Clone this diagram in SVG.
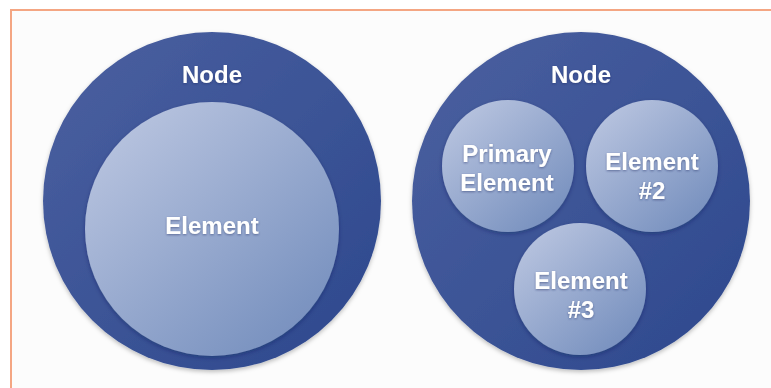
<svg xmlns="http://www.w3.org/2000/svg" width="771" height="388" viewBox="0 0 771 388">
<style>
.node{fill:url(#gOuter);filter:url(#sh)}
.el{fill:url(#gInner);filter:url(#sh2)}
.lbl{font-family:"Liberation Sans",Arial,sans-serif;font-weight:bold;fill:#ffffff;text-anchor:middle;filter:url(#tsh)}
.big{font-size:24px}
.sm{font-size:24px}
</style>
<defs>
<linearGradient id="gOuter" x1="0" y1="0" x2="1" y2="1">
<stop offset="0" stop-color="#4b60a0"/>
<stop offset="1" stop-color="#2d488d"/>
</linearGradient>
<linearGradient id="gInner" x1="0.15" y1="0.1" x2="0.85" y2="0.9">
<stop offset="0" stop-color="#b6c2de"/>
<stop offset="1" stop-color="#7891bf"/>
</linearGradient>
<filter id="sh" x="-10%" y="-10%" width="120%" height="125%">
<feDropShadow dx="0" dy="2" stdDeviation="2" flood-color="#000" flood-opacity="0.25"/>
</filter>
<filter id="sh2" x="-10%" y="-10%" width="120%" height="125%">
<feDropShadow dx="0" dy="2" stdDeviation="2" flood-color="#0a1a50" flood-opacity="0.35"/>
</filter>
<filter id="tsh" x="-10%" y="-20%" width="120%" height="150%">
<feDropShadow dx="0" dy="1" stdDeviation="0.8" flood-color="#1a2a60" flood-opacity="0.5"/>
</filter>
</defs>
<rect x="0" y="0" width="771" height="388" fill="#ffffff"/>
<rect x="11" y="10" width="770" height="390" fill="#fcfcfc"/>
<path d="M11 388 V10 H771" fill="none" stroke="#f4a683" stroke-width="2"/>

<g id="node-left">
<circle class="node" cx="212" cy="201" r="169"/>
<text class="lbl big" x="212" y="83">Node</text>
</g>
<g id="element">
<circle class="el" cx="212" cy="229" r="127"/>
<text class="lbl big" x="212" y="234">Element</text>
</g>

<g id="node-right">
<circle class="node" cx="581" cy="201" r="169"/>
<text class="lbl big" x="581" y="83">Node</text>
</g>
<g id="primary-element">
<circle class="el" cx="508" cy="166" r="66"/>
<text class="lbl sm" x="507" y="162">Primary</text>
<text class="lbl sm" x="507" y="191">Element</text>
</g>
<g id="element-2">
<circle class="el" cx="652" cy="166" r="66"/>
<text class="lbl sm" x="652" y="170">Element</text>
<text class="lbl sm" x="652" y="199">#2</text>
</g>
<g id="element-3">
<circle class="el" cx="580" cy="289" r="66"/>
<text class="lbl sm" x="581" y="289">Element</text>
<text class="lbl sm" x="581" y="318">#3</text>
</g>
<g id="connectors"/>
</svg>
